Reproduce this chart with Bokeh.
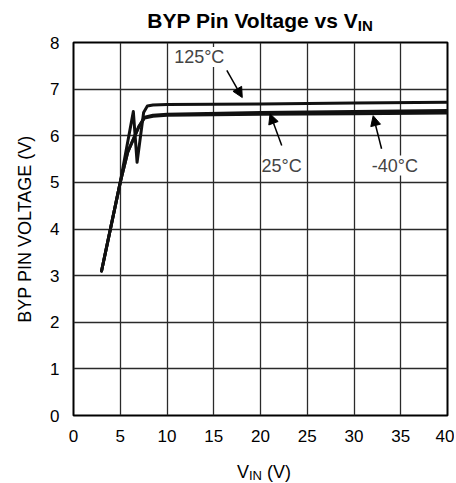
from bokeh.plotting import figure
from bokeh.models import Label, Arrow, NormalHead, Range1d, FixedTicker, Div
from bokeh.layouts import column
from bokeh.embed import file_html
from bokeh.resources import INLINE

# ---- data ----
x_125 = [3, 5, 6.4, 6.8, 7.5, 7.9, 8.5, 10, 20, 30, 40]
y_125 = [3.1, 5.0, 6.52, 5.43, 6.5, 6.64, 6.66, 6.67, 6.68, 6.70, 6.72]

x_25 = [3, 5, 5.8, 7.0, 7.6, 8.5, 10, 20, 30, 40]
y_25 = [3.1, 5.0, 5.65, 6.2, 6.4, 6.44, 6.46, 6.50, 6.52, 6.54]

x_m40 = [3, 5, 5.8, 7.0, 7.6, 8.5, 10, 20, 30, 40]
y_m40 = [3.1, 5.0, 5.65, 6.2, 6.38, 6.42, 6.44, 6.46, 6.47, 6.49]

x_ticks = [0, 5, 10, 15, 20, 25, 30, 35, 40]
y_ticks = [0, 1, 2, 3, 4, 5, 6, 7, 8]

title_main = "BYP Pin Voltage vs V"
title_sub = "IN"
x_label_main = "V"
x_label_sub = "IN"
x_label_tail = " (V)"
y_label = "BYP PIN VOLTAGE (V)"

# annotations: (text, x, y, arrow tail x, tail y, head x, head y)
notes = [
    ("125°C", 13.45, 7.69, 16.4, 7.40, 18.05, 6.82),
    ("25°C", 22.26, 5.36, 22.27, 5.79, 21.02, 6.47),
    ("-40°C", 34.37, 5.36, 32.95, 5.72, 32.05, 6.43),
]

FONT = "Liberation Sans"
W = 454
TITLE_H = 34
PLOT_H = 417
XLAB_H = 31

p = figure(width=W, height=PLOT_H, output_backend="svg", toolbar_location=None,
           x_range=Range1d(0, 40), y_range=Range1d(0, 8),
           min_border_left=73, min_border_right=7, min_border_top=8,
           min_border_bottom=36, margin=(0, 0, 0, 0))
p.outline_line_color = "black"
p.outline_line_width = 2
p.background_fill_color = "white"
p.border_fill_color = "white"

for ax in (p.xaxis[0], p.yaxis[0]):
    ax.axis_line_color = None
    ax.major_tick_line_color = None
    ax.minor_tick_line_color = None
    ax.major_tick_out = 0
    ax.major_tick_in = 0
    ax.minor_tick_out = 0
    ax.minor_tick_in = 0
    ax.major_label_text_font = FONT
    ax.major_label_text_font_size = "17px"
    ax.major_label_text_color = "black"
p.xaxis[0].ticker = FixedTicker(ticks=x_ticks)
p.yaxis[0].ticker = FixedTicker(ticks=y_ticks)
p.xaxis[0].major_label_standoff = 14
p.yaxis[0].major_label_standoff = 14
p.yaxis[0].axis_label = y_label
p.yaxis[0].axis_label_text_font = FONT
p.yaxis[0].axis_label_text_font_size = "18px"
p.yaxis[0].axis_label_text_font_style = "normal"
p.yaxis[0].axis_label_text_color = "black"
p.yaxis[0].axis_label_standoff = 12

p.xgrid[0].ticker = FixedTicker(ticks=x_ticks)
p.ygrid[0].ticker = FixedTicker(ticks=y_ticks)
for g in (p.xgrid[0], p.ygrid[0]):
    g.grid_line_color = "#2a2a2a"
    g.grid_line_width = 1.3
    g.grid_line_alpha = 1.0

for xs, ys in ((x_125, y_125), (x_25, y_25), (x_m40, y_m40)):
    p.line(xs, ys, line_color="#111111", line_width=3, line_join="round", line_cap="round")

for txt, tx, ty, ax0, ay0, ax1, ay1 in notes:
    p.add_layout(Label(x=tx, y=ty, text=txt, text_font=FONT, text_font_size="18px",
                       text_align="center", text_baseline="middle",
                       background_fill_color="white", background_fill_alpha=1.0))
    p.add_layout(Arrow(x_start=ax0, y_start=ay0, x_end=ax1, y_end=ay1,
                       line_color="black", line_width=1.5,
                       end=NormalHead(size=10, fill_color="black", line_color="black")))

title_html = (
    f'<div style="width:374px;margin-left:73px;padding-top:9px;text-align:center;'
    f'font-family:\'{FONT}\';font-size:21px;font-weight:bold;line-height:24px;'
    f'white-space:nowrap;color:black;">{title_main}'
    f'<span style="font-size:15px;position:relative;top:3px;">{title_sub}</span></div>'
)
title_div = Div(text=title_html, width=W, height=TITLE_H, margin=(0, 0, 0, 0))

xlab_html = (
    f'<div style="width:374px;margin-left:77px;padding-top:13px;text-align:center;'
    f'font-family:\'{FONT}\';font-size:18px;line-height:16px;white-space:pre;color:black;">'
    f'{x_label_main}<span style="font-size:13px;position:relative;top:2px;">{x_label_sub}</span>'
    f'{x_label_tail}</div>'
)
xlab_div = Div(text=xlab_html, width=W, height=XLAB_H, margin=(0, 0, 0, 0))

layout = column(title_div, p, xlab_div, spacing=0, margin=(0, 0, 0, 0))

open("out.html", "w").write(file_html(layout, INLINE))
